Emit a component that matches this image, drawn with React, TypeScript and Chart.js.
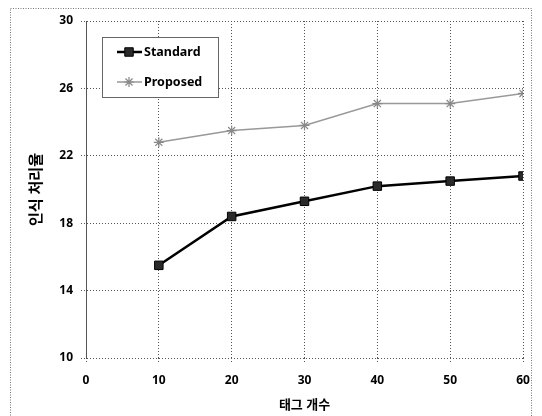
import { useEffect, useRef } from 'react';
import { Chart, registerables } from 'chart.js';
import { drawPoint } from 'chart.js/helpers';

Chart.register(...registerables);

const tagCounts = [10, 20, 30, 40, 50, 60];
const standardRates = [15.5, 18.4, 19.3, 20.2, 20.5, 20.8];
const proposedRates = [22.8, 23.5, 23.8, 25.1, 25.1, 25.7];
const seriesNames = ['Standard', 'Proposed'];
const xTitle = '태그 개수';
const yTitle = '인식 처리율';

const FONT = "'Noto Sans', 'Noto Sans CJK KR', sans-serif";

const framePlugin = {
  id: 'frame',
  beforeDraw(chart: any) {
    const ctx = chart.ctx;
    ctx.save();
    ctx.fillStyle = '#fff';
    ctx.fillRect(0, 0, chart.width, chart.height);
    ctx.strokeStyle = '#777';
    ctx.lineWidth = 1;
    ctx.setLineDash([1, 1.5]);
    ctx.strokeRect(10.5, 8.5, 521, 420);
    ctx.restore();
  },
};

const boxLegendPlugin = {
  id: 'boxLegend',
  afterDraw(chart: any) {
    const ctx = chart.ctx;
    const x0 = 102;
    const y0 = 37;
    ctx.save();
    ctx.fillStyle = '#fff';
    ctx.fillRect(x0, y0, 116, 60);
    ctx.strokeStyle = '#666';
    ctx.lineWidth = 1;
    ctx.setLineDash([]);
    ctx.strokeRect(x0 + 0.5, y0 + 0.5, 116, 60);
    chart.data.datasets.forEach((ds: any, i: number) => {
      const y = 52 + i * 30;
      ctx.save();
      ctx.strokeStyle = ds.borderColor;
      ctx.lineWidth = ds.borderWidth;
      ctx.beginPath();
      ctx.moveTo(117, y);
      ctx.lineTo(142, y);
      ctx.stroke();
      ctx.fillStyle = ds.pointBackgroundColor;
      ctx.strokeStyle = ds.pointBorderColor;
      ctx.lineWidth = ds.pointBorderWidth;
      drawPoint(ctx, { pointStyle: ds.pointStyle, radius: ds.pointRadius, rotation: 0, borderWidth: ds.pointBorderWidth }, 129, y);
      ctx.restore();
      ctx.fillStyle = '#000';
      ctx.font = `bold 12.5px ${FONT}`;
      ctx.textBaseline = 'middle';
      ctx.textAlign = 'left';
      ctx.fillText(ds.label, 144, y);
    });
    ctx.restore();
  },
};

export default function App() {
  const canvasRef = useRef<HTMLCanvasElement | null>(null);

  useEffect(() => {
    if (!canvasRef.current) return;
    const tickFont = { family: FONT, size: 12, weight: 'bold' as const };
    const chart = new Chart(canvasRef.current, {
      type: 'line',
      data: {
        datasets: [
          {
            label: seriesNames[0],
            data: tagCounts.map((x, i) => ({ x, y: standardRates[i] })),
            borderColor: '#000',
            borderWidth: 2.5,
            pointStyle: 'rect',
            pointRadius: 6,
            pointBackgroundColor: '#2a2a2a',
            pointBorderColor: '#000',
            pointBorderWidth: 1,
            tension: 0,
          },
          {
            label: seriesNames[1],
            data: tagCounts.map((x, i) => ({ x, y: proposedRates[i] })),
            borderColor: '#999',
            borderWidth: 1.5,
            pointStyle: 'star',
            pointRadius: 5,
            pointBackgroundColor: '#ddd',
            pointBorderColor: '#888',
            pointBorderWidth: 1.2,
            tension: 0,
          },
        ],
      },
      options: {
        responsive: false,
        animation: false,
        devicePixelRatio: 1,
        layout: { padding: { top: 21, right: 19, left: 0, bottom: 0 } },
        plugins: {
          legend: { display: false },
          tooltip: { enabled: false },
        },
        scales: {
          x: {
            type: 'linear',
            min: 0,
            max: 60,
            ticks: { stepSize: 10, font: tickFont, color: '#000', padding: 10 },
            grid: { color: '#555', lineWidth: 1, tickLength: 5, tickBorderDash: [1, 2] },
            border: { display: false, dash: [1, 2] },
            title: {
              display: true,
              text: xTitle,
              color: '#000',
              font: { family: FONT, size: 13, weight: 'bold' },
              padding: { top: 0, bottom: 3 },
            },
            afterFit: (s: any) => {
              s.height = 58;
            },
          },
          y: {
            min: 10,
            max: 30,
            ticks: { stepSize: 4, font: tickFont, color: '#000', padding: 8 },
            grid: { color: '#555', lineWidth: 1, tickLength: 5, tickBorderDash: [1, 2] },
            border: { display: true, color: '#555', width: 1, dash: [1, 2] },
            title: {
              display: true,
              text: yTitle,
              color: '#000',
              font: { family: FONT, size: 15, weight: 'bold' },
              padding: { top: 28, bottom: 0 },
            },
            afterFit: (s: any) => {
              s.width = 86;
            },
          },
        },
      },
      plugins: [framePlugin, boxLegendPlugin],
    });
    return () => chart.destroy();
  }, []);

  return (
    <div style={{ position: 'fixed', left: 0, top: 0, width: 542, height: 416 }}>
      <canvas ref={canvasRef} width={542} height={416} style={{ display: 'block' }} />
    </div>
  );
}
